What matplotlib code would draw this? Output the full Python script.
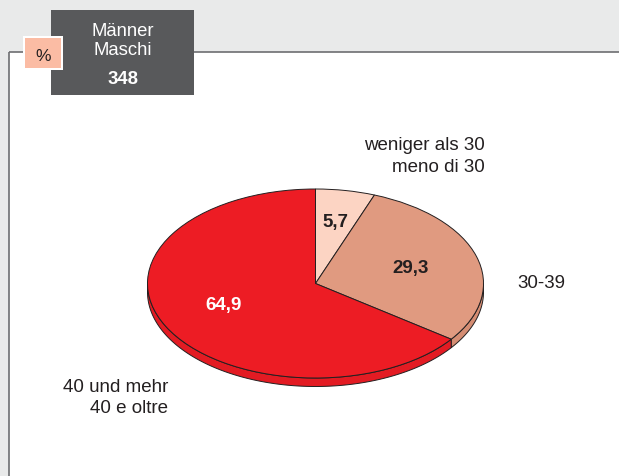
import numpy as np
import matplotlib
matplotlib.use("Agg")
import matplotlib.pyplot as plt
from matplotlib.patches import Rectangle, Polygon

# ---- data ----
categories = ["weniger als 30\nmeno di 30", "30-39", "40 und mehr\n40 e oltre"]
values = [5.7, 29.3, 64.9]
value_labels = ["5,7", "29,3", "64,9"]
header_lines = ["Männer", "Maschi"]
header_n = "348"
unit = "%"

# ---- style ----
top_colors = ["#fcd4c3", "#e09a80", "#ed1c24"]
side_colors = ["#f0c2b0", "#d58d73", "#e31b23"]
label_colors = ["#231f20", "#231f20", "#ffffff"]
label_radius = [0.67, 0.59, 0.59]
edge = "#231f20"
W, H = 619, 477
FONT = "Liberation Sans"
plt.rcParams["font.family"] = [FONT, "DejaVu Sans"]

fig = plt.figure(figsize=(W / 100, H / 100), dpi=100)
fig.patch.set_facecolor("#e9eaea")

bg = fig.add_axes([0, 0, 1, 1])
bg.set_xlim(0, W)
bg.set_ylim(H, 0)
bg.axis("off")

# white panel with border
bg.add_patch(Rectangle((8.5, 52.5), W, H, facecolor="white", edgecolor="none", zorder=1))
bg.plot([8.5, W], [52.5, 52.5], color="#6d6e71", lw=1.2, zorder=2, solid_capstyle="butt")
bg.plot([8.5, 8.5], [52.5, H], color="#6d6e71", lw=1.2, zorder=2, solid_capstyle="butt")

# header box
bg.add_patch(Rectangle((51, 11), 143, 85, facecolor="#58595b", edgecolor="none", zorder=3))
bg.text(123, 36, header_lines[0], color="white", fontsize=13.3, ha="center", va="baseline", zorder=4)
bg.text(123, 55, header_lines[1], color="white", fontsize=13.3, ha="center", va="baseline", zorder=4)
bg.text(123, 84, header_n, color="white", fontsize=13.3, fontweight="bold", ha="center", va="baseline", zorder=4)

# % box
bg.add_patch(Rectangle((23, 37), 40, 34, facecolor="white", edgecolor="none", zorder=5))
bg.add_patch(Rectangle((25, 39), 36, 30, facecolor="#fbbca4", edgecolor="none", zorder=6))
bg.text(43.5, 61, unit, color="#231f20", fontsize=12.5, ha="center", va="baseline", zorder=7)

# outer category labels
fs = 13.5
lines0 = categories[0].split("\n")
bg.text(485, 150, lines0[0], color="#231f20", fontsize=fs, ha="right", va="baseline", zorder=4)
bg.text(485, 172, lines0[1], color="#231f20", fontsize=fs, ha="right", va="baseline", zorder=4)
bg.text(517, 288, categories[1], color="#231f20", fontsize=fs, ha="left", va="baseline", zorder=4)
lines2 = categories[2].split("\n")
bg.text(168, 392, lines2[0], color="#231f20", fontsize=fs, ha="right", va="baseline", zorder=4)
bg.text(168, 413, lines2[1], color="#231f20", fontsize=fs, ha="right", va="baseline", zorder=4)

# ---- pie axes: unit circle mapped to ellipse rx, ry ----
cx, cy, rx, ry = 315.5, 284.5, 168.0, 94.5
xl, xr, yb, yt = -1.2, 1.2, -1.4, 1.2
left_px = cx + xl * rx
width_px = (xr - xl) * rx
bottom_px = cy - yb * ry  # pixel y (downwards)
height_px = (yt - yb) * ry
ax = fig.add_axes([left_px / W, (H - bottom_px) / H, width_px / W, height_px / H])
ax.set_zorder(5)
ax.patch.set_alpha(0)

wedges, _ = ax.pie(values, colors=top_colors, startangle=90, counterclock=False,
                   wedgeprops=dict(edgecolor=edge, linewidth=0.7, zorder=3))
depth = 8.5 / ry

# side band of the tilted pie
total = sum(values)
cum = np.cumsum([0] + values) / total
for i in range(len(values)):
    t0 = 90 - 360 * cum[i]
    t1 = 90 - 360 * cum[i + 1]
    th = np.linspace(t0, t1, 400)
    s = np.sin(np.radians(th))
    mask = s <= 1e-9
    if not mask.any():
        continue
    idx = np.where(mask)[0]
    runs = np.split(idx, np.where(np.diff(idx) != 1)[0] + 1)
    for run in runs:
        tt = np.radians(th[run])
        xs = np.cos(tt)
        ys = np.sin(tt)
        poly = np.concatenate([np.column_stack([xs, ys]),
                               np.column_stack([xs[::-1], ys[::-1] - depth])])
        ax.add_patch(Polygon(poly, closed=True, facecolor=side_colors[i],
                             edgecolor=edge, linewidth=0.7, zorder=1))

# value labels
for i, lab in enumerate(value_labels):
    mid = 90 - 360 * (cum[i] + cum[i + 1]) / 2
    r = label_radius[i]
    if i == 2:
        mid -= 5
    ax.text(r * np.cos(np.radians(mid)), r * np.sin(np.radians(mid)), lab,
            ha="center", va="center", fontsize=13.5, fontweight="bold",
            color=label_colors[i], zorder=5)

ax.set_aspect("auto")
ax.set_xlim(xl, xr)
ax.set_ylim(yb, yt)
ax.axis("off")

fig.savefig("out.png", dpi=100, facecolor=fig.get_facecolor())
